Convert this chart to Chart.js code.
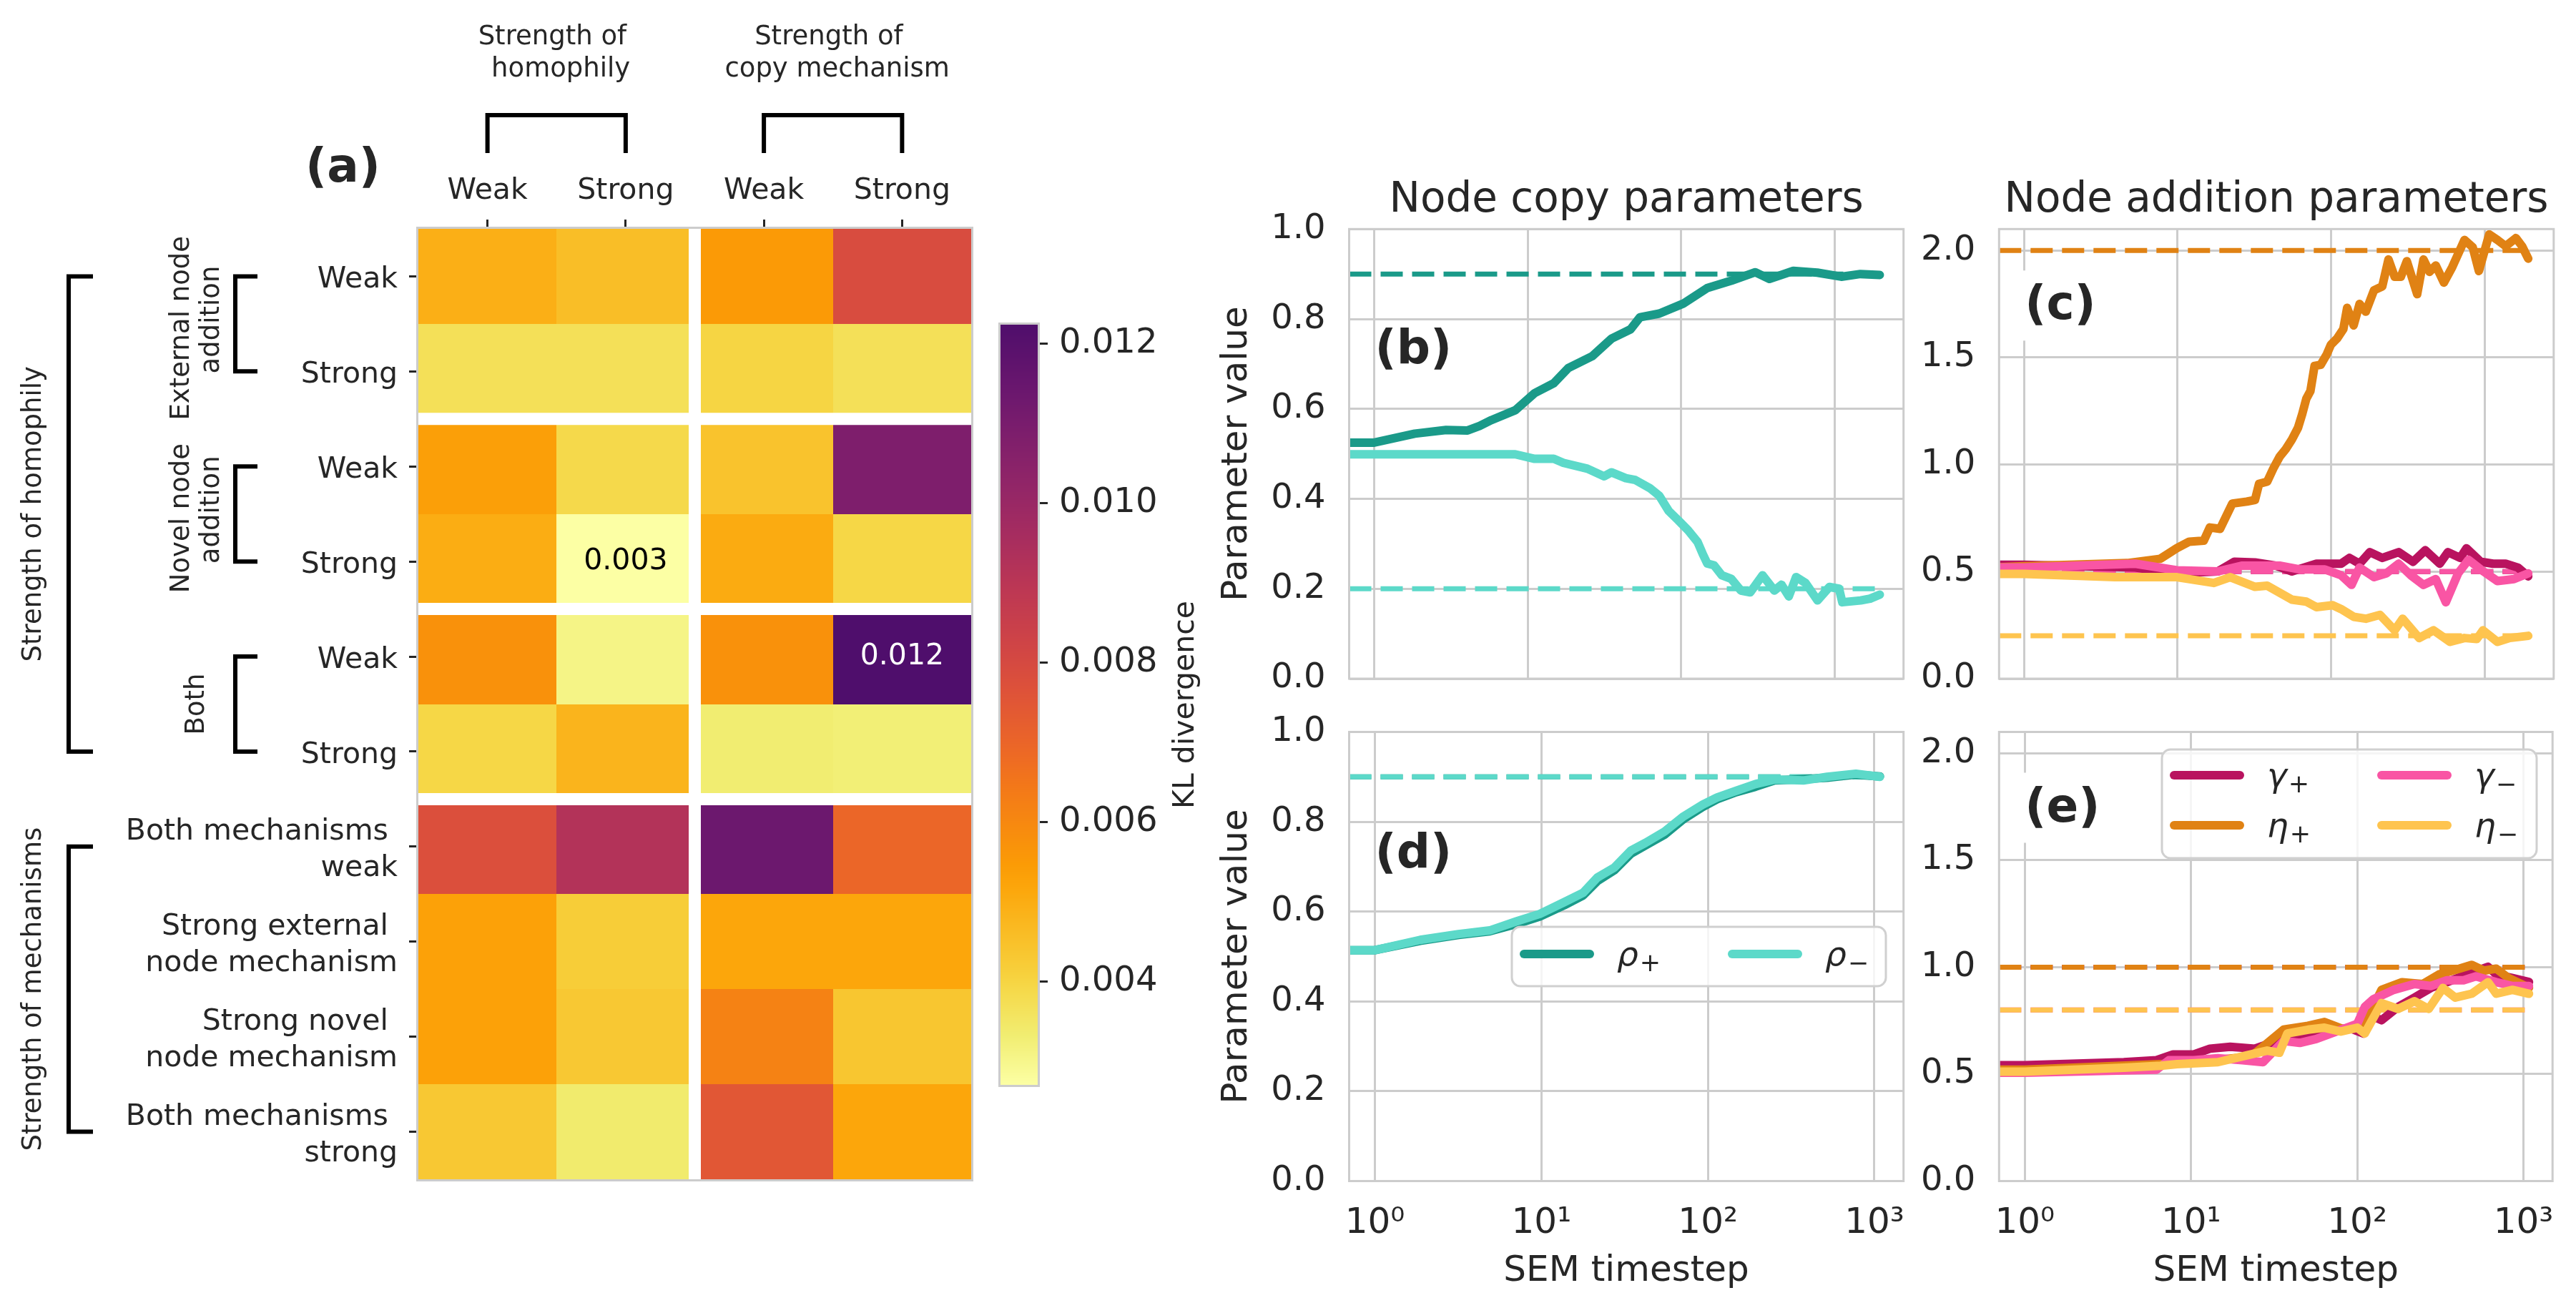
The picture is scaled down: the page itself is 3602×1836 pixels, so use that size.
<!DOCTYPE html>
<html>
<head>
<meta charset="utf-8">
<title>KL divergence heatmap and SEM parameter traces</title>
<script src="https://cdn.jsdelivr.net/npm/chart.js@4.4.1/dist/chart.umd.min.js"></script>
<style>
  html, body { margin: 0; padding: 0; background: #ffffff; }
  #figure { position: relative; width: 3602px; height: 1836px; overflow: hidden; }
  #figure canvas { position: absolute; left: 0; top: 0; }
</style>
</head>
<body>
<div id="figure">
  <canvas id="heatmap" width="3602" height="1836"></canvas>
  <canvas id="colorbar" width="3602" height="1836"></canvas>
  <canvas id="panelB" width="3602" height="1836"></canvas>
  <canvas id="panelC" width="3602" height="1836"></canvas>
  <canvas id="panelD" width="3602" height="1836"></canvas>
  <canvas id="panelE" width="3602" height="1836"></canvas>
</div>
<script>
const FIG_W = 3602, FIG_H = 1836;
const FONT = 'DejaVu Sans';
const INK = '#262626';
const GRID = '#cccccc';
Chart.defaults.font.family = FONT;
Chart.defaults.color = INK;

// ---------- (a) heatmap data ----------
const heatCols = ['Weak', 'Strong', 'Weak', 'Strong'];
const heatRows = ['Weak', 'Strong', 'Weak', 'Strong', 'Weak', 'Strong',
  ['Both mechanisms ', 'weak'], ['Strong external ', 'node mechanism'],
  ['Strong novel ', 'node mechanism'], ['Both mechanisms ', 'strong']];
const colGroup = [0, 0, 1, 1];
const rowGroup = [0, 0, 1, 1, 2, 2, 3, 3, 3, 3];
// rows x [homophily weak, homophily strong, copy weak, copy strong]
const klValues = [
  [0.00493, 0.00456, 0.00549, 0.00790],
  [0.00369, 0.00369, 0.00400, 0.00369],
  [0.00536, 0.00388, 0.00443, 0.01082],
  [0.00499, 0.00270, 0.00505, 0.00394],
  [0.00574, 0.00307, 0.00574, 0.01224],
  [0.00394, 0.00481, 0.00332, 0.00326],
  [0.00778, 0.00920, 0.01137, 0.00697],
  [0.00530, 0.00419, 0.00518, 0.00518],
  [0.00530, 0.00431, 0.00617, 0.00437],
  [0.00431, 0.00338, 0.00747, 0.00518]
];
const cbarTicks = [0.004, 0.006, 0.008, 0.010, 0.012];

const topGroups = [['Strength of ', ' homophily'], ['Strength of ', ' copy mechanism']];
const innerGroups = [['External node ', ' addition'], ['Novel node ', ' addition'], ['Both']];
const outerGroups = ['Strength of homophily', 'Strength of mechanisms'];

// ---------- (b)-(e) traces ----------
const xTicks = [1, 10, 100, 1000];
const copyTicks = [0, 0.2, 0.4, 0.6, 0.8, 1.0];
const addTicks = [0, 0.5, 1.0, 1.5, 2.0];

// (b) node copy, top
const tRhoPlusB = [0, 1, 1.84, 2.94, 4.06, 4.86, 5.8, 8.3, 11.1, 14.8, 18.4, 26.3, 35.1, 46.8, 54, 72, 103, 148, 212, 304, 376, 538, 771, 1104, 1472, 1968];
const rhoPlusB = [0.525, 0.525, 0.545, 0.553, 0.552, 0.562, 0.575, 0.597, 0.635, 0.657, 0.691, 0.717, 0.756, 0.777, 0.804, 0.812, 0.834, 0.869, 0.885, 0.904, 0.889, 0.907, 0.903, 0.894, 0.900, 0.898];
const tRhoMinusB = [0, 1, 8.3, 11.1, 14.8, 17.1, 24.5, 31.5, 35.1, 43.6, 50.2, 62.4, 72, 83, 96, 111, 128, 138, 148, 164, 184, 212, 245, 282, 339, 405, 451, 503, 561, 646, 774, 925, 1069, 1122, 1476, 1702, 1968];
const rhoMinusB = [0.499, 0.499, 0.499, 0.489, 0.489, 0.480, 0.467, 0.450, 0.459, 0.446, 0.442, 0.424, 0.407, 0.373, 0.352, 0.330, 0.304, 0.278, 0.256, 0.252, 0.230, 0.222, 0.196, 0.192, 0.230, 0.196, 0.209, 0.183, 0.226, 0.213, 0.174, 0.204, 0.200, 0.170, 0.174, 0.178, 0.187];
const targetB = [0.9, 0.2];

// (c) node addition, top
const tGammaPlusC = [0, 1, 5.3, 9.9, 18.3, 23.4, 31.9, 43.4, 55.5, 80.2, 116, 131.5, 153, 178.6, 215, 275, 341, 410, 509, 576, 692, 760, 942, 1133, 1368, 1645, 1919];
const gammaPlusC = [0.532, 0.532, 0.519, 0.492, 0.501, 0.546, 0.543, 0.528, 0.501, 0.537, 0.537, 0.564, 0.537, 0.591, 0.564, 0.591, 0.546, 0.600, 0.537, 0.591, 0.564, 0.609, 0.546, 0.537, 0.537, 0.519, 0.478];
const tEtaPlusC = [0, 1, 4.7, 7.7, 9.9, 11.9, 14.8, 16.2, 18.9, 22.7, 28.2, 31.9, 33.9, 38.3, 42, 46.1, 50.6, 55.5, 60.8, 64.7, 68.8, 73.2, 77.9, 85.4, 93.6, 99.6, 109, 120, 127, 140, 153, 168, 190, 215, 236, 259, 284, 311, 363, 399, 437, 480, 542, 614, 738, 835, 916, 1069, 1209, 1368, 1596, 1750, 1919];
const etaPlusC = [0.520, 0.525, 0.540, 0.560, 0.610, 0.640, 0.645, 0.706, 0.700, 0.818, 0.827, 0.835, 0.910, 0.920, 0.982, 1.036, 1.072, 1.117, 1.172, 1.235, 1.307, 1.343, 1.461, 1.466, 1.515, 1.560, 1.588, 1.633, 1.732, 1.650, 1.750, 1.714, 1.814, 1.832, 1.958, 1.877, 1.877, 1.950, 1.796, 1.958, 1.900, 1.930, 1.850, 1.922, 2.049, 2.015, 1.904, 2.075, 2.049, 2.020, 2.058, 2.020, 1.962];
const tGammaMinusC = [0, 1, 5.3, 9.9, 18.3, 26.4, 46.1, 63, 91, 116, 135.6, 153, 190, 228.5, 275, 330, 399, 480, 558, 671, 783, 942, 1209, 1550, 1919];
const gammaMinusC = [0.519, 0.519, 0.537, 0.506, 0.501, 0.528, 0.528, 0.510, 0.510, 0.483, 0.438, 0.519, 0.474, 0.492, 0.537, 0.483, 0.438, 0.465, 0.357, 0.492, 0.555, 0.510, 0.456, 0.465, 0.492];
const tEtaMinusC = [0, 1, 3.9, 9.9, 17.2, 22, 31.9, 38.3, 55.5, 68.8, 80.2, 102.5, 116, 140, 168, 208, 259, 292, 374, 464, 594, 738, 887, 973, 1209, 1455, 1919];
const etaMinusC = [0.489, 0.489, 0.474, 0.474, 0.447, 0.474, 0.429, 0.434, 0.369, 0.360, 0.334, 0.343, 0.325, 0.289, 0.280, 0.298, 0.226, 0.280, 0.190, 0.226, 0.172, 0.190, 0.185, 0.226, 0.172, 0.190, 0.200];
const targetC = [0.5, 2.0, 0.5, 0.2]; // gamma+, eta+, gamma-, eta-

// (d) node copy, bottom
const tRhoD = [0, 1, 1.87, 3.18, 4.89, 7.05, 9.8, 13.7, 17.8, 21.7, 27.4, 34.5, 42.1, 54.8, 71.4, 93, 113.5, 148, 193, 251, 374, 520, 774, 1079];
const rhoPlusD = [0.514, 0.514, 0.535, 0.548, 0.556, 0.572, 0.589, 0.614, 0.636, 0.668, 0.692, 0.729, 0.747, 0.771, 0.806, 0.833, 0.850, 0.866, 0.878, 0.892, 0.895, 0.898, 0.905, 0.901];
const rhoMinusD = [0.514, 0.514, 0.537, 0.550, 0.558, 0.578, 0.595, 0.621, 0.642, 0.676, 0.698, 0.736, 0.753, 0.778, 0.812, 0.838, 0.854, 0.869, 0.884, 0.894, 0.892, 0.900, 0.907, 0.900];
const targetD = [0.9, 0.9];

// (e) node addition, bottom
const tGammaPlusE = [0, 1, 3.94, 6.2, 7.8, 10.4, 13, 17.2, 24.2, 30.3, 38, 50.6, 67, 89, 109, 125, 140, 176, 221, 277, 347, 488, 612, 686, 859, 1079];
const gammaPlusE = [0.542, 0.542, 0.556, 0.565, 0.592, 0.592, 0.619, 0.628, 0.619, 0.646, 0.681, 0.690, 0.699, 0.717, 0.690, 0.769, 0.752, 0.814, 0.858, 0.903, 0.930, 0.975, 1.002, 0.966, 0.949, 0.931];
const tEtaPlusE = [0, 1, 6.57, 10.4, 23, 27.1, 36, 50.6, 63.5, 84, 111, 140, 186, 247, 310, 412, 488, 578, 686, 815, 1079];
const etaPlusE = [0.521, 0.521, 0.547, 0.555, 0.583, 0.628, 0.708, 0.726, 0.744, 0.708, 0.735, 0.894, 0.930, 0.921, 0.966, 0.993, 1.011, 0.984, 0.993, 0.949, 0.904];
const tGammaMinusE = [0, 1, 6.2, 7.36, 10.4, 14.5, 20.4, 27.1, 36, 45.1, 56.6, 75, 100, 111, 125, 166, 221, 277, 347, 436, 517, 686, 859, 1079];
const gammaMinusE = [0.507, 0.507, 0.521, 0.565, 0.565, 0.574, 0.565, 0.556, 0.655, 0.646, 0.664, 0.699, 0.735, 0.814, 0.850, 0.894, 0.921, 0.912, 0.939, 0.939, 0.957, 0.930, 0.912, 0.912];
const tEtaMinusE = [0, 1, 3.94, 6.57, 8.24, 14.5, 20.4, 28.7, 34, 38, 50.6, 63.5, 79.6, 100, 111, 140, 176, 221, 269, 328, 389, 488, 612, 686, 859, 1079];
const etaMinusE = [0.512, 0.512, 0.530, 0.539, 0.547, 0.556, 0.583, 0.610, 0.600, 0.690, 0.708, 0.717, 0.699, 0.717, 0.690, 0.832, 0.805, 0.841, 0.805, 0.903, 0.858, 0.876, 0.930, 0.876, 0.894, 0.876];
const targetE = [1.0, 1.0, 0.8, 0.8];

const COLORS = {
  rhoPlus: '#1a9a89', rhoMinus: '#5cd9c9',
  gammaPlus: '#b9135f', gammaMinus: '#f955a4',
  etaPlus: '#e08214', etaMinus: '#fec44f'
};

// ---------- colour map (inferno, truncated) ----------
const infernoStops = [
  [0.200, '#420a68'], [0.222, '#4a0c6b'], [0.300, '#6a176e'], [0.333, '#781c6d'],
  [0.400, '#932667'], [0.444, '#a52c60'], [0.500, '#bc3754'], [0.556, '#cf4446'],
  [0.600, '#dd513a'], [0.667, '#ed6925'], [0.700, '#f37819'], [0.778, '#fb9b06'],
  [0.800, '#fca50a'], [0.889, '#f7d13d'], [0.900, '#f6d746'], [0.950, '#f1ed71'],
  [1.000, '#fcffa4']
];
const rgb = h => [1, 3, 5].map(i => parseInt(h.slice(i, i + 2), 16));
function inferno(p) {
  p = Math.min(1, Math.max(infernoStops[0][0], p));
  for (let i = 1; i < infernoStops.length; i++) {
    if (p <= infernoStops[i][0]) {
      const [p0, c0] = infernoStops[i - 1], [p1, c1] = infernoStops[i];
      const f = (p - p0) / (p1 - p0), a = rgb(c0), b = rgb(c1);
      return 'rgb(' + a.map((v, k) => Math.round(v + (b[k] - v) * f)).join(',') + ')';
    }
  }
  return infernoStops[infernoStops.length - 1][1];
}
const klMin = Math.min(...klValues.flat());
const klMax = Math.max(...klValues.flat());
const klColor = v => inferno(0.235 + 0.765 * (klMax - v) / (klMax - klMin));

function vText(ctx, lines, cx, cy, size, spacing) {
  ctx.save();
  ctx.translate(cx, cy);
  ctx.rotate(-Math.PI / 2);
  ctx.font = size + 'px ' + FONT;
  ctx.fillStyle = INK;
  ctx.textAlign = 'center';
  ctx.textBaseline = 'middle';
  lines.forEach((t, i) => ctx.fillText(t, 0, (i - (lines.length - 1) / 2) * spacing));
  ctx.restore();
}
function bracketLeft(ctx, x, y0, y1, arm) {
  ctx.beginPath();
  ctx.moveTo(x + arm, y0); ctx.lineTo(x, y0); ctx.lineTo(x, y1); ctx.lineTo(x + arm, y1);
  ctx.stroke();
}

// regular grid of cells; white separator lines between groups are laid over it
const heatCells = {
  id: 'heatCells',
  beforeDatasetsDraw(chart) {
    const { ctx, chartArea: a, scales: { x, y } } = chart;
    ctx.save();
    klValues.forEach((row, r) => row.forEach((v, c) => {
      const x0 = Math.round(x.getPixelForValue(c));
      const x1 = Math.round(x.getPixelForValue(c + 1));
      const y0 = Math.round(y.getPixelForValue(r));
      const y1 = Math.round(y.getPixelForValue(r + 1));
      ctx.fillStyle = klColor(v);
      ctx.fillRect(x0, y0, x1 - x0, y1 - y0);
    }));
    ctx.strokeStyle = '#ffffff';
    ctx.lineWidth = 17;
    rowGroup.forEach((g, r) => {
      if (r > 0 && g !== rowGroup[r - 1]) {
        const py = y.getPixelForValue(r);
        ctx.beginPath(); ctx.moveTo(a.left, py); ctx.lineTo(a.right, py); ctx.stroke();
      }
    });
    colGroup.forEach((g, c) => {
      if (c > 0 && g !== colGroup[c - 1]) {
        const px = x.getPixelForValue(c);
        ctx.beginPath(); ctx.moveTo(px, a.top); ctx.lineTo(px, a.bottom); ctx.stroke();
      }
    });
    klValues.forEach((row, r) => row.forEach((v, c) => {
      if (v === klMin || v === klMax) {
        ctx.fillStyle = v === klMax ? '#ffffff' : '#000000';
        ctx.font = '41px ' + FONT;
        ctx.textAlign = 'center';
        ctx.textBaseline = 'middle';
        ctx.fillText(v.toFixed(3), x.getPixelForValue(c + 0.5), y.getPixelForValue(r + 0.5));
      }
    }));
    ctx.strokeStyle = GRID;
    ctx.lineWidth = 3;
    ctx.strokeRect(a.left - 1.5, a.top - 1.5, a.right - a.left + 3, a.bottom - a.top + 3);
    ctx.restore();
  },
  afterDraw(chart) {
    const { ctx, scales: { x, y } } = chart;
    const rowMid = r => y.getPixelForValue(r + 0.5);
    const colMid = c => x.getPixelForValue(c + 0.5);
    ctx.save();
    ctx.strokeStyle = '#000000';
    ctx.lineWidth = 6;
    ctx.lineJoin = 'miter';
    // top brackets over column pairs
    topGroups.forEach((lines, g) => {
      const xa = colMid(2 * g), xb = colMid(2 * g + 1);
      ctx.beginPath();
      ctx.moveTo(xa, 214); ctx.lineTo(xa, 161); ctx.lineTo(xb, 161); ctx.lineTo(xb, 214);
      ctx.stroke();
      ctx.font = '37px ' + FONT;
      ctx.fillStyle = INK;
      ctx.textAlign = 'center';
      ctx.textBaseline = 'alphabetic';
      lines.forEach((t, i) => ctx.fillText(t, (xa + xb) / 2, 62 + i * 45));
    });
    // inner brackets over row pairs
    innerGroups.forEach((lines, g) => {
      const ya = rowMid(2 * g), yb = rowMid(2 * g + 1);
      bracketLeft(ctx, 329, ya, yb, 31);
      vText(ctx, lines, 275, (ya + yb) / 2, 37, 42);
    });
    // outer brackets
    const spans = [[0, 5], [6, 9]];
    outerGroups.forEach((t, g) => {
      const ya = rowMid(spans[g][0]), yb = rowMid(spans[g][1]);
      bracketLeft(ctx, 96, ya, yb, 34);
      vText(ctx, [t], 47, (ya + yb) / 2, 37, 42);
    });
    ctx.font = 'bold 66px ' + FONT;
    ctx.fillStyle = INK;
    ctx.textAlign = 'left';
    ctx.textBaseline = 'alphabetic';
    ctx.fillText('(a)', 427, 254);
    ctx.restore();
  }
};

const tickGrid = { drawOnChartArea: false, drawTicks: true, tickLength: 13, tickWidth: 3, tickColor: INK };

new Chart(document.getElementById('heatmap'), {
  type: 'scatter',
  data: { datasets: [{ data: [] }] },
  options: {
    responsive: false, animation: false, devicePixelRatio: 1, events: [],
    layout: { padding: { left: 0, top: 0, right: FIG_W - 1358, bottom: FIG_H - 1649 } },
    plugins: { legend: { display: false }, tooltip: { enabled: false } },
    scales: {
      x: {
        type: 'linear', position: 'top', min: 0, max: heatCols.length,
        afterBuildTicks: s => { s.ticks = heatCols.map((_, c) => ({ value: c + 0.5 })); },
        afterFit: s => { s.height = 320; },
        ticks: { autoSkip: false, maxRotation: 0, padding: 15, font: { size: 41 }, callback: (v, i) => heatCols[i] },
        grid: tickGrid,
        border: { display: false }
      },
      y: {
        type: 'linear', position: 'left', reverse: true, min: 0, max: heatRows.length,
        afterBuildTicks: s => { s.ticks = heatRows.map((_, r) => ({ value: r + 0.5 })); },
        afterFit: s => { s.width = 585; },
        ticks: { autoSkip: false, padding: 16, labelOffset: 5, font: { size: 41, lineHeight: 1.25 }, callback: (v, i) => heatRows[i] },
        grid: tickGrid,
        border: { display: false }
      }
    }
  },
  plugins: [heatCells]
});

// ---------- colour bar ----------
const cbarFill = {
  id: 'cbarFill',
  beforeDatasetsDraw(chart) {
    const { ctx, chartArea: a, scales: { y } } = chart;
    ctx.save();
    for (let py = Math.floor(a.top); py < Math.ceil(a.bottom); py++) {
      ctx.fillStyle = klColor(y.getValueForPixel(py + 0.5));
      ctx.fillRect(a.left, py, a.right - a.left, 1);
    }
    ctx.strokeStyle = GRID;
    ctx.lineWidth = 3;
    ctx.strokeRect(a.left - 1.5, a.top - 1.5, a.right - a.left + 3, a.bottom - a.top + 3);
    ctx.restore();
    vText(ctx, ['KL divergence'], 1658, (a.top + a.bottom) / 2, 41, 42);
  }
};

new Chart(document.getElementById('colorbar'), {
  type: 'scatter',
  data: { datasets: [{ data: [] }] },
  options: {
    responsive: false, animation: false, devicePixelRatio: 1, events: [],
    layout: { padding: { left: 1399, top: 454, right: FIG_W - 1451 - 400, bottom: FIG_H - 1517 } },
    plugins: { legend: { display: false }, tooltip: { enabled: false } },
    scales: {
      x: { display: false },
      y: {
        type: 'linear', position: 'right', min: klMin, max: klMax,
        afterBuildTicks: s => { s.ticks = cbarTicks.map(v => ({ value: v })); },
        afterFit: s => { s.width = 400; },
        ticks: { padding: 16, font: { size: 48 }, callback: v => v.toFixed(3) },
        grid: { drawOnChartArea: false, drawTicks: true, tickLength: 14, tickWidth: 3, tickColor: INK },
        border: { display: false }
      }
    }
  },
  plugins: [cbarFill]
});

// ---------- line panels ----------
const SUP = ['\u2070', '\u00b9', '\u00b2', '\u00b3'];

function series(label, ts, vs, color, order) {
  return {
    label, order, data: ts.map((t, i) => ({ x: t, y: vs[i] })),
    borderColor: color, backgroundColor: color, borderWidth: 12,
    pointRadius: 0, tension: 0, fill: false,
    borderCapStyle: 'round', borderJoinStyle: 'round'
  };
}
// dashed ground-truth line; drawn below all traces, stacked in the same order as its trace
function target(value, ts, color, order) {
  return {
    label: '', order: 10 + order, data: [{ x: 0, y: value }, { x: ts[ts.length - 1], y: value }],
    borderColor: color, borderWidth: 7, borderDash: [31, 13],
    pointRadius: 0, tension: 0, fill: false
  };
}

function drawMath(ctx, label, x, base) {
  ctx.font = 'italic 47px ' + FONT;
  ctx.textAlign = 'left';
  ctx.textBaseline = 'alphabetic';
  ctx.fillText(label[0], x, base);
  const w = ctx.measureText(label[0]).width;
  ctx.font = '35px ' + FONT;
  ctx.fillText(label.slice(1), x + w + 2, base + 8);
}

const decor = {
  id: 'decor',
  afterDatasetsDraw(chart, args, o) {
    const { ctx, chartArea: a } = chart;
    ctx.save();
    ctx.strokeStyle = GRID;
    ctx.lineWidth = 3;
    ctx.strokeRect(a.left, a.top, a.right - a.left, a.bottom - a.top);
    ctx.fillStyle = INK;
    if (o.title) {
      ctx.font = '58px ' + FONT;
      ctx.textAlign = 'center';
      ctx.textBaseline = 'alphabetic';
      ctx.fillText(o.title, (a.left + a.right) / 2, a.top - 24);
    }
    ctx.font = 'bold 66px ' + FONT;
    ctx.textAlign = 'left';
    ctx.textBaseline = 'alphabetic';
    const lx = a.left + 36, ly = a.top + o.labelDy;
    if (o.labelBox) {
      const w = ctx.measureText(o.label).width;
      ctx.fillStyle = '#ffffff';
      ctx.fillRect(lx - 9, ly - 68, w + 18, 98);
      ctx.fillStyle = INK;
    }
    ctx.fillText(o.label, lx, ly);
    if (o.legend) {
      const [bx, by, bw, bh] = o.legend.box;
      ctx.beginPath();
      ctx.roundRect(bx, by, bw, bh, 12);
      ctx.fillStyle = 'rgba(255,255,255,0.8)';
      ctx.fill();
      ctx.strokeStyle = '#d0d0d0';
      ctx.lineWidth = 3;
      ctx.stroke();
      o.legend.items.forEach(it => {
        const ds = chart.data.datasets[it.ds];
        ctx.strokeStyle = ds.borderColor;
        ctx.lineWidth = 12;
        ctx.lineCap = 'round';
        ctx.beginPath();
        ctx.moveTo(it.x + 6, it.y);
        ctx.lineTo(it.x + 98, it.y);
        ctx.stroke();
        ctx.fillStyle = INK;
        drawMath(ctx, ds.label, it.x + 136, it.y + 16);
      });
    }
    ctx.restore();
  }
};

function makePanel(id, p) {
  return new Chart(document.getElementById(id), {
    type: 'line',
    data: { datasets: p.datasets },
    options: {
      responsive: false, animation: false, devicePixelRatio: 1, events: [],
      layout: { padding: { left: p.padLeft, top: p.area.top, right: FIG_W - p.area.right, bottom: FIG_H - p.area.bottom - p.xAxisH } },
      plugins: { legend: { display: false }, tooltip: { enabled: false }, decor: p.decor },
      scales: {
        x: {
          type: 'logarithmic', min: p.xMin, max: p.xMax,
          afterBuildTicks: s => { s.ticks = xTicks.map(v => ({ value: v })); },
          afterFit: s => { s.height = p.xAxisH; },
          ticks: {
            display: p.showX, autoSkip: false, maxRotation: 0, padding: 30, font: { size: 50 },
            callback: v => '10' + SUP[Math.round(Math.log10(v))]
          },
          grid: { color: GRID, lineWidth: 3, drawTicks: false },
          border: { display: false },
          title: { display: p.showX, text: 'SEM timestep', font: { size: 50 }, padding: 0 }
        },
        y: {
          type: 'linear', min: 0, max: p.yMax,
          afterBuildTicks: s => { s.ticks = p.yTicks.map(v => ({ value: v })); },
          afterFit: s => { s.width = p.area.left - p.padLeft; },
          ticks: { padding: 33, font: { size: 48 }, callback: v => v.toFixed(1) },
          grid: { color: GRID, lineWidth: 3, drawTicks: false },
          border: { display: false },
          title: { display: p.yTitle, text: 'Parameter value', font: { size: 50 }, padding: 0 }
        }
      }
    },
    plugins: [decor]
  });
}

const topRange = { xMin: Math.pow(10, -0.163), xMax: Math.pow(10, 3.449) };
const botRange = { xMin: Math.pow(10, -0.152), xMax: Math.pow(10, 3.175) };

makePanel('panelB', {
  ...topRange, padLeft: 1700, yTitle: true, showX: false, xAxisH: 0,
  area: { left: 1886.5, right: 2661.7, top: 320.3, bottom: 949 },
  yMax: 1.0, yTicks: copyTicks,
  datasets: [
    series('ρ+', tRhoPlusB, rhoPlusB, COLORS.rhoPlus, 2),
    series('ρ\u2212', tRhoMinusB, rhoMinusB, COLORS.rhoMinus, 1),
    target(targetB[0], tRhoPlusB, COLORS.rhoPlus, 2),
    target(targetB[1], tRhoMinusB, COLORS.rhoMinus, 1)
  ],
  decor: { title: 'Node copy parameters', label: '(b)', labelDy: 188 }
});

makePanel('panelC', {
  ...topRange, padLeft: 2640, yTitle: false, showX: false, xAxisH: 0,
  area: { left: 2795.3, right: 3570.8, top: 320.3, bottom: 949 },
  yMax: 2.1, yTicks: addTicks,
  datasets: [
    series('γ+', tGammaPlusC, gammaPlusC, COLORS.gammaPlus, 4),
    series('η+', tEtaPlusC, etaPlusC, COLORS.etaPlus, 3),
    series('γ\u2212', tGammaMinusC, gammaMinusC, COLORS.gammaMinus, 2),
    series('η\u2212', tEtaMinusC, etaMinusC, COLORS.etaMinus, 1),
    target(targetC[0], tGammaPlusC, COLORS.gammaPlus, 4),
    target(targetC[1], tEtaPlusC, COLORS.etaPlus, 3),
    target(targetC[2], tGammaMinusC, COLORS.gammaMinus, 2),
    target(targetC[3], tEtaMinusC, COLORS.etaMinus, 1)
  ],
  decor: { title: 'Node addition parameters', label: '(c)', labelDy: 126, labelBox: true }
});

makePanel('panelD', {
  ...botRange, padLeft: 1700, yTitle: true, showX: true, xAxisH: 156.5,
  area: { left: 1886.5, right: 2661.7, top: 1023.5, bottom: 1651.5 },
  yMax: 1.0, yTicks: copyTicks,
  datasets: [
    series('ρ+', tRhoD, rhoPlusD, COLORS.rhoPlus, 2),
    series('ρ\u2212', tRhoD, rhoMinusD, COLORS.rhoMinus, 1),
    target(targetD[0], tRhoD, COLORS.rhoPlus, 2),
    target(targetD[1], tRhoD, COLORS.rhoMinus, 1)
  ],
  decor: {
    label: '(d)', labelDy: 189,
    legend: { box: [2114, 1296, 523, 83], items: [{ ds: 0, x: 2125, y: 1334 }, { ds: 1, x: 2416, y: 1334 }] }
  }
});

makePanel('panelE', {
  ...botRange, padLeft: 2640, yTitle: false, showX: true, xAxisH: 156.5,
  area: { left: 2795.3, right: 3570.8, top: 1023.5, bottom: 1651.5 },
  yMax: 2.1, yTicks: addTicks,
  datasets: [
    series('γ+', tGammaPlusE, gammaPlusE, COLORS.gammaPlus, 4),
    series('η+', tEtaPlusE, etaPlusE, COLORS.etaPlus, 3),
    series('γ\u2212', tGammaMinusE, gammaMinusE, COLORS.gammaMinus, 2),
    series('η\u2212', tEtaMinusE, etaMinusE, COLORS.etaMinus, 1),
    target(targetE[0], tGammaPlusE, COLORS.gammaPlus, 4),
    target(targetE[1], tEtaPlusE, COLORS.etaPlus, 3),
    target(targetE[2], tGammaMinusE, COLORS.gammaMinus, 2),
    target(targetE[3], tEtaMinusE, COLORS.etaMinus, 1)
  ],
  decor: {
    label: '(e)', labelDy: 125, labelBox: true,
    legend: {
      box: [3023, 1048, 524, 152],
      items: [{ ds: 0, x: 3034, y: 1084 }, { ds: 2, x: 3324, y: 1084 }, { ds: 1, x: 3034, y: 1154 }, { ds: 3, x: 3324, y: 1154 }]
    }
  }
});
</script>
</body>
</html>
